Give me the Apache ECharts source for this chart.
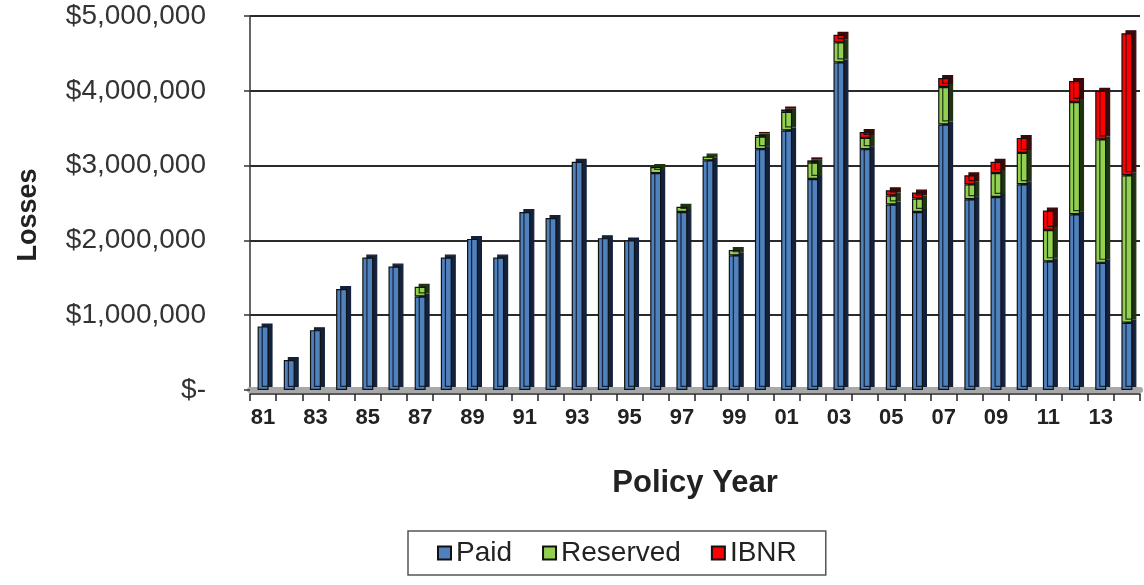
<!DOCTYPE html>
<html>
<head>
<meta charset="utf-8">
<script src="https://cdn.jsdelivr.net/npm/echarts@6/dist/echarts.min.js"></script>
<style>
  html, body { margin: 0; padding: 0; background: #fff; }
  #chart { width: 1144px; height: 585px; }
</style>
</head>
<body>
<div id="chart"></div>
<script>
// Policy years 1981-2014
const years = ['81','82','83','84','85','86','87','88','89','90','91','92','93','94','95','96','97','98','99',
               '00','01','02','03','04','05','06','07','08','09','10','11','12','13','14'];

// Losses in dollars by policy year
const paid = [850000, 400000, 800000, 1350000, 1770000, 1650000, 1250000, 1770000, 2020000, 1770000,
              2380000, 2300000, 3050000, 2030000, 2000000, 2900000, 2380000, 3070000, 1800000,
              3220000, 3470000, 2820000, 4380000, 3220000, 2480000, 2380000, 3550000, 2550000,
              2580000, 2750000, 1720000, 2350000, 1700000, 900000];
const reserved = [0, 0, 0, 0, 0, 0, 130000, 0, 0, 0,
                  0, 0, 0, 0, 0, 80000, 70000, 50000, 70000,
                  170000, 250000, 220000, 270000, 150000, 120000, 180000, 500000, 200000,
                  320000, 420000, 420000, 1500000, 1650000, 1970000];
const ibnr = [0, 0, 0, 0, 0, 0, 0, 0, 0, 0,
              0, 0, 0, 0, 0, 0, 0, 0, 0,
              20000, 30000, 30000, 100000, 80000, 70000, 80000, 120000, 120000,
              150000, 200000, 260000, 280000, 650000, 1900000];

const FONT = "'Liberation Sans', Arial, sans-serif";

function money(v) {
  if (v === 0) return '$-';
  return '$' + v.toLocaleString('en-US');
}

// Stacked column segment with a dark offset shadow for the side/top faces
function barSeries(name, values, color, side) {
  return {
    name: name,
    type: 'bar',
    stack: 'losses',
    barWidth: 11,
    data: values.map(v => (v === 0 ? '-' : v)),
    itemStyle: {
      color: color,
      borderColor: '#111',
      borderWidth: 1.2,
      shadowColor: side,
      shadowBlur: 0,
      shadowOffsetX: 4,
      shadowOffsetY: -3
    }
  };
}

const chart = echarts.init(document.getElementById('chart'), null, { renderer: 'canvas' });

chart.setOption({
  animation: false,
  backgroundColor: '#ffffff',
  grid: { left: 250, right: 4, top: 16, bottom: 195, containLabel: false },
  legend: {
    left: 408,
    top: 531,
    padding: [8, 29],
    itemGap: 30,
    itemWidth: 13,
    itemHeight: 13,
    icon: 'rect',
    borderColor: '#555',
    borderWidth: 1.5,
    textStyle: { fontFamily: FONT, fontSize: 28, color: '#222' },
    data: ['Paid', 'Reserved', 'IBNR']
  },
  xAxis: [
    {
      type: 'category',
      data: years,
      name: 'Policy Year',
      nameLocation: 'middle',
      nameGap: 78,
      nameTextStyle: { fontFamily: FONT, fontSize: 31, fontWeight: 'bold', color: '#222' },
      axisLine: { lineStyle: { color: '#a8a8a8', width: 6 } },
      axisTick: { show: false },
      axisLabel: {
        interval: 1,
        margin: 17,
        fontFamily: FONT,
        fontSize: 22,
        fontWeight: 'bold',
        color: '#222'
      }
    },
    {
      type: 'category',
      data: years,
      position: 'bottom',
      offset: 4,
      axisLine: { lineStyle: { color: '#222', width: 1.5 } },
      axisTick: { show: true, interval: 0, length: 7, lineStyle: { color: '#222', width: 1.5 } },
      axisLabel: { show: false }
    }
  ],
  yAxis: {
    type: 'value',
    min: 0,
    max: 5000000,
    interval: 1000000,
    name: 'Losses',
    nameLocation: 'middle',
    nameGap: 208,
    nameTextStyle: { fontFamily: FONT, fontSize: 27, fontWeight: 'bold', color: '#222', padding: [0, 24, 0, 0] },
    axisLine: { show: true, lineStyle: { color: '#333', width: 1.5 } },
    axisTick: { show: true, length: 6, lineStyle: { color: '#333', width: 1.5 } },
    axisLabel: {
      margin: 44,
      formatter: money,
      fontFamily: FONT,
      fontSize: 28,
      color: '#333'
    },
    splitLine: { lineStyle: { color: '#2a2a2a', width: 2 } }
  },
  series: [
    barSeries('Paid', paid, '#4f81bd', '#14213a'),
    barSeries('Reserved', reserved, '#92d050', '#1f3312'),
    barSeries('IBNR', ibnr, '#ff0000', '#3a0a0a')
  ]
});
</script>
</body>
</html>
